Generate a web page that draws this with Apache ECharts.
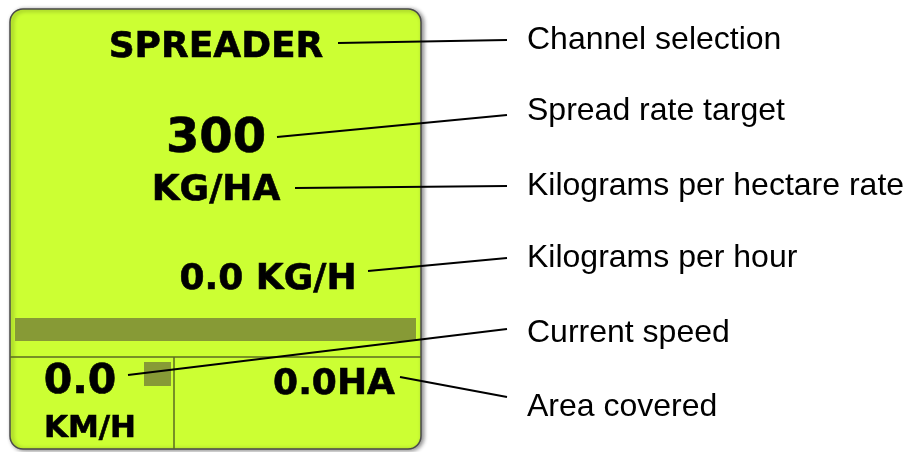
<!DOCTYPE html>
<html>
<head>
<meta charset="utf-8">
<script src="https://cdn.jsdelivr.net/npm/echarts@6/dist/echarts.min.js"></script>
<style>
    html, body { margin: 0; padding: 0; background: #ffffff; }
    #chart { width: 908px; height: 452px; }
</style>
</head>
<body>
<div id="chart"></div>
<script>
// readouts shown on the terminal screen
const readoutText = ["SPREADER", "300", "KG/HA", "0.0 KG/H", "0.0", "KM/H", "0.0HA"];
const readoutAt = [[216, 48], [216, 140], [216, 191], [268, 280], [80, 382], [90, 429], [334, 385]];

// callouts on the right and the leaders pointing at the readouts
const calloutText = [
    "Channel selection",
    "Spread rate target",
    "Kilograms per hectare rate",
    "Kilograms per hour",
    "Current speed",
    "Area covered"
];
const calloutY = [40, 111, 186, 258, 333, 407];
const leaderFrom = [[338, 43], [277, 137], [295, 188], [368, 271], [128, 375], [400, 377]];
const leaderTo = [[507, 40], [507, 115], [507, 186], [507, 258], [507, 329], [507, 397]];

const readoutSize = [36, 48, 36, 36, 41, 31, 36];
const calloutX = 527;

const screen = { x0: 10, y0: 9, x1: 421, y1: 449, r: 13 };
const rateBar = { x0: 15, y0: 318, x1: 416, y1: 341 };
const splitY = 357;
const splitX = 174;
const gpsBox = { x0: 144, y0: 362, x1: 171, y1: 386 };

const LIME = "#ccff33";
const OLIVE = "#879a36";
const RULE = "#5b6b22";

function box(api, b) {
    const a = api.coord([b.x0, b.y0]);
    const c = api.coord([b.x1, b.y1]);
    return { x: a[0], y: a[1], width: c[0] - a[0], height: c[1] - a[1] };
}

function renderScreen(params, api) {
    const left = api.coord([screen.x0, splitY]);
    const right = api.coord([screen.x1, splitY]);
    const vTop = api.coord([splitX, splitY]);
    const vBottom = api.coord([splitX, screen.y1]);
    return {
        type: "group",
        children: [
            {
                type: "rect",
                shape: Object.assign(box(api, screen), { r: screen.r }),
                style: {
                    fill: LIME,
                    stroke: "#4a4a4a",
                    lineWidth: 1.5,
                    shadowBlur: 4,
                    shadowOffsetX: 2,
                    shadowOffsetY: 1,
                    shadowColor: "rgba(0,0,0,0.45)"
                }
            },
            {
                type: "rect",
                shape: box(api, rateBar),
                style: { fill: OLIVE }
            },
            {
                type: "line",
                shape: { x1: left[0], y1: left[1], x2: right[0], y2: right[1] },
                style: { stroke: RULE, lineWidth: 1.5 }
            },
            {
                type: "line",
                shape: { x1: vTop[0], y1: vTop[1], x2: vBottom[0], y2: vBottom[1] },
                style: { stroke: RULE, lineWidth: 1.5 }
            },
            {
                type: "rect",
                shape: box(api, gpsBox),
                style: { fill: OLIVE }
            }
        ]
    };
}

function renderReadout(params, api) {
    const i = params.dataIndex;
    const p = api.coord([api.value(0), api.value(1)]);
    return {
        type: "text",
        x: p[0],
        y: p[1],
        style: {
            text: readoutText[i],
            fill: "#000000",
            stroke: "#000000",
            lineWidth: 0.6,
            font: `bold ${readoutSize[i]}px "DejaVu Sans"`,
            align: "center",
            verticalAlign: "middle"
        }
    };
}

function renderCallout(params, api) {
    const p = api.coord([api.value(0), api.value(1)]);
    return {
        type: "text",
        x: p[0],
        y: p[1],
        style: {
            text: calloutText[params.dataIndex],
            fill: "#000000",
            font: '32px "Liberation Sans"',
            align: "left",
            verticalAlign: "middle"
        }
    };
}

const chart = echarts.init(document.getElementById("chart"), null, { renderer: "canvas" });

chart.setOption({
    backgroundColor: "#ffffff",
    animation: false,
    grid: { left: 0, right: 0, top: 0, bottom: 0 },
    xAxis: { type: "value", min: 0, max: 908, show: false },
    yAxis: { type: "value", min: 0, max: 452, inverse: true, show: false },
    series: [
        {
            name: "screen",
            type: "custom",
            renderItem: renderScreen,
            data: [[screen.x0, screen.y0]],
            silent: true,
            z: 1
        },
        {
            name: "readouts",
            type: "custom",
            renderItem: renderReadout,
            data: readoutAt,
            silent: true,
            z: 3
        },
        {
            name: "leaders",
            type: "lines",
            coordinateSystem: "cartesian2d",
            data: leaderFrom.map((from, i) => ({ coords: [from, leaderTo[i]] })),
            lineStyle: { color: "#000000", width: 2, opacity: 1 },
            silent: true,
            z: 4
        },
        {
            name: "callouts",
            type: "custom",
            renderItem: renderCallout,
            data: calloutY.map(y => [calloutX, y]),
            silent: true,
            z: 3
        }
    ]
});

window.addEventListener("resize", () => chart.resize());
</script>
</body>
</html>
